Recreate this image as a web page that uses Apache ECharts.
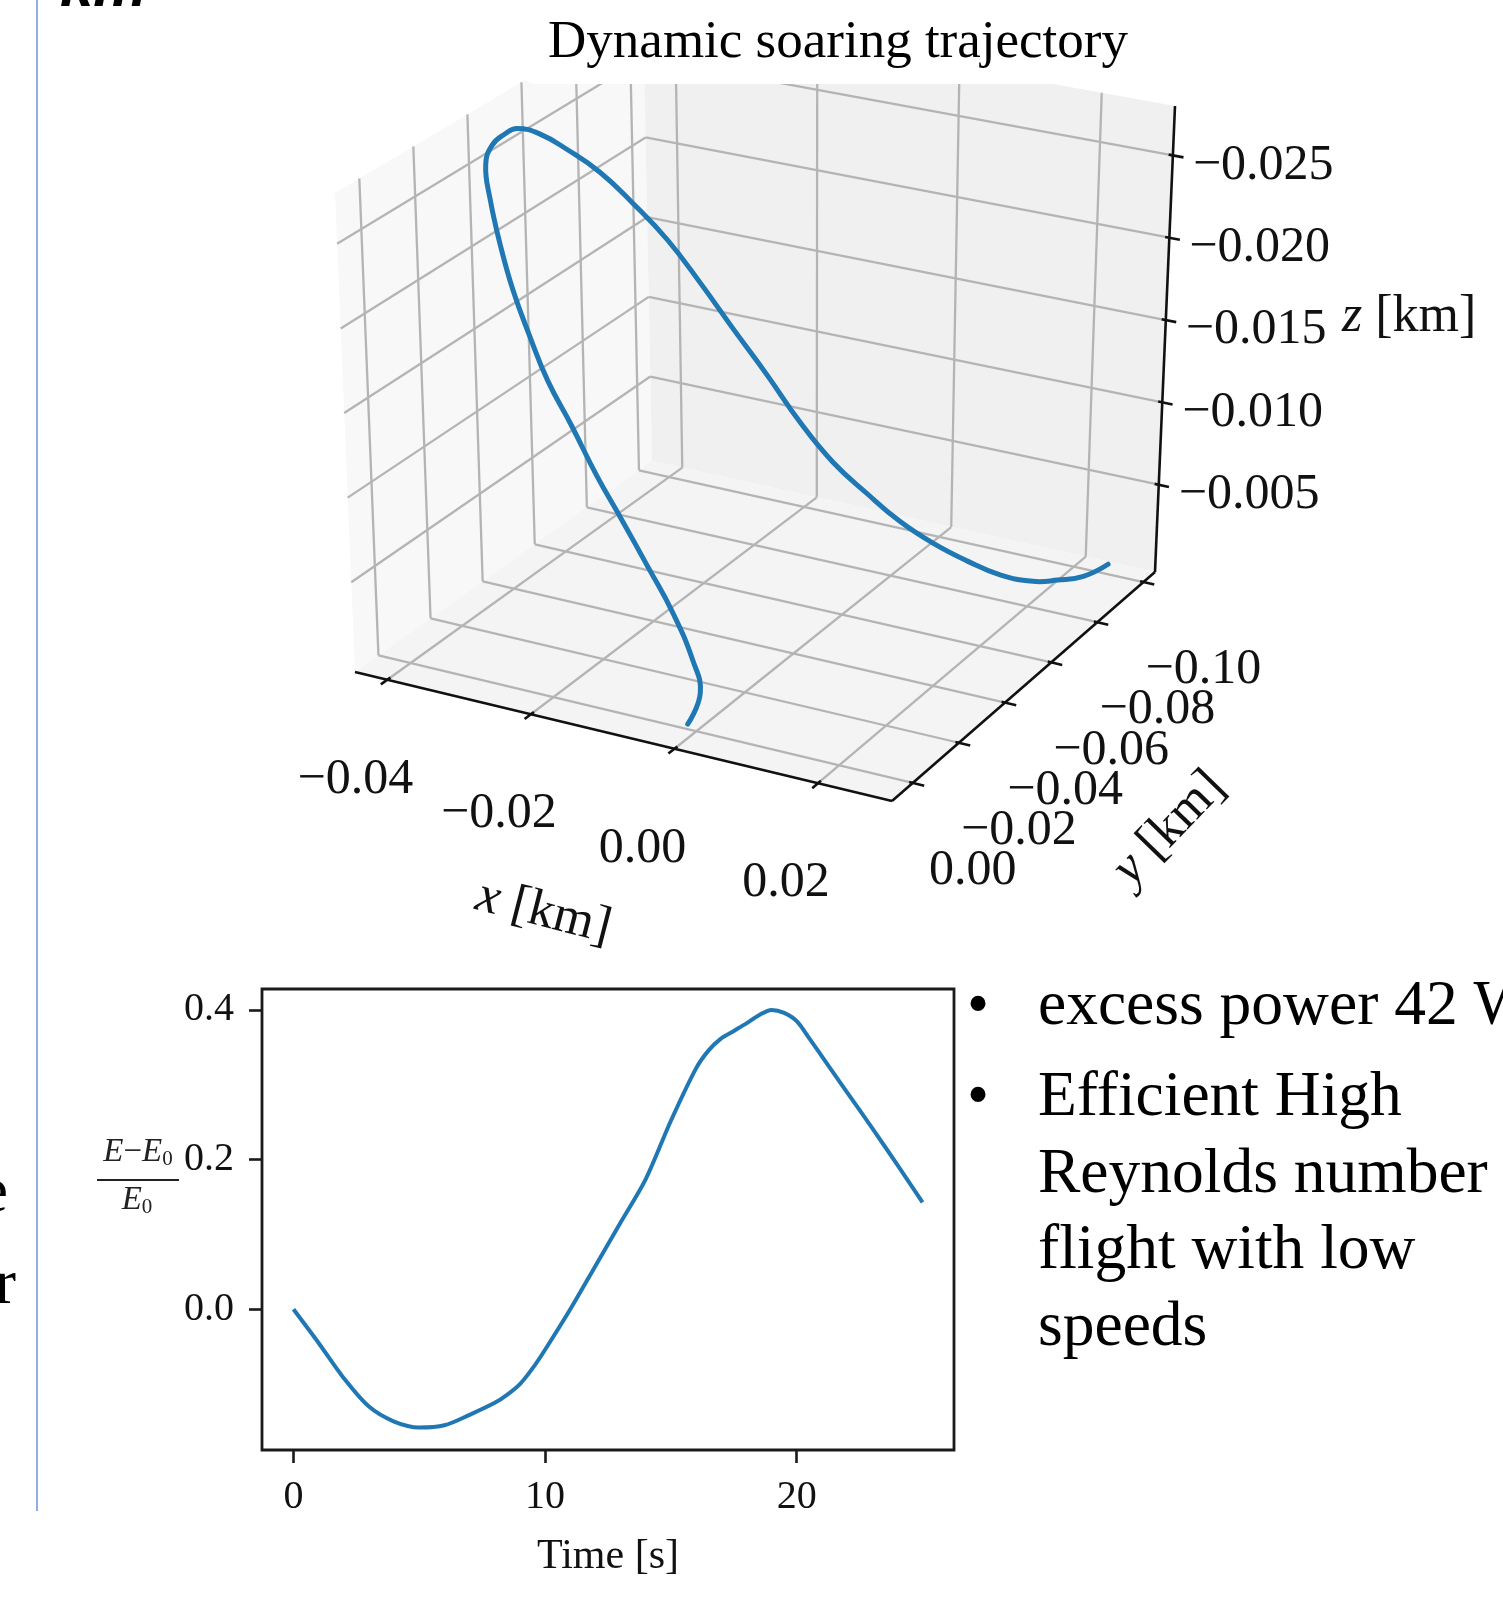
<!DOCTYPE html>
<html><head><meta charset="utf-8">
<script src="https://cdn.jsdelivr.net/npm/echarts@6/dist/echarts.min.js"></script>
<style>html,body{margin:0;padding:0;background:#fff;overflow:hidden}#c{width:1503px;height:1607px}</style>
</head><body><div id="c"></div>
<script>
// ---------- data: 3D trajectory (km) ----------
const trajX = [-0.0012,-0.0001,-0.0018,-0.0056,-0.0100,-0.0146,-0.0191,-0.0235,-0.0278,-0.0313,-0.0345,-0.0372,-0.0395,-0.0409,-0.0407,-0.0396,-0.0387,-0.0365,-0.0340,-0.0306,-0.0272,-0.0236,-0.0202,-0.0167,-0.0130,-0.0093,-0.0057,-0.0018,0.0020,0.0057,0.0099,0.0141,0.0179,0.0206,0.0231,0.0250];
const trajY = [0.000,-0.002,-0.004,-0.007,-0.010,-0.013,-0.016,-0.019,-0.022,-0.025,-0.028,-0.031,-0.034,-0.0365,-0.0385,-0.0405,-0.0425,-0.045,-0.048,-0.051,-0.054,-0.057,-0.060,-0.063,-0.066,-0.069,-0.072,-0.075,-0.078,-0.081,-0.0835,-0.0855,-0.0885,-0.0912,-0.095,-0.100];
const trajZ = [0.0000,-0.0017,-0.0032,-0.0053,-0.0072,-0.0092,-0.0111,-0.0133,-0.0153,-0.0174,-0.0195,-0.0217,-0.0239,-0.0256,-0.0266,-0.0272,-0.0274,-0.0270,-0.0260,-0.0246,-0.0227,-0.0205,-0.0179,-0.0151,-0.0123,-0.0094,-0.0070,-0.0051,-0.0034,-0.0021,-0.0011,-0.0004,0.0000,0.0000,0.0000,-0.0003];
const xTicks3d = [-0.04,-0.02,0.00,0.02];
const yTicks3d = [0.00,-0.02,-0.04,-0.06,-0.08,-0.10];
const zTicks3d = [-0.025,-0.020,-0.015,-0.010,-0.005];
const xLim3d = [-0.0445, 0.0303];   // left, right
const yLim3d = [0.009, -0.105];     // front, back
const zLim3d = [0.0003, -0.028];    // bottom, top
// ---------- data: energy ----------
const timeS = [0,1,2,3,4,5,6,7,8,8.5,9,9.5,10,11,12,13,14,15,16,16.5,17,17.5,18,18.5,19,19.5,20,20.5,21,22,23,24,25];
const energyRatio = [0.000,-0.045,-0.092,-0.130,-0.150,-0.158,-0.155,-0.141,-0.125,-0.114,-0.100,-0.079,-0.054,0.000,0.058,0.116,0.174,0.252,0.322,0.346,0.362,0.372,0.382,0.393,0.400,0.396,0.385,0.362,0.338,0.290,0.242,0.193,0.143];
const timeTicks = [0,10,20];
const energyTicks = [0.0,0.2,0.4];
const bullets = ['excess power 42 W', 'Efficient High', 'Reynolds number', 'flight with low', 'speeds'];

// ---------- projection (box corners on screen) ----------
const CORN = {c000:[355,672], c100:[892,801], c010:[652,461], c110:[1155,572],
              c001:[335,193], c101:[900,307], c011:[643,10],  c111:[1175,106]};
function lerp2(a,b,t){return [a[0]+(b[0]-a[0])*t, a[1]+(b[1]-a[1])*t];}
function tri(u,v,w){
  const c=CORN;
  const a0=lerp2(c.c000,c.c100,u), a1=lerp2(c.c010,c.c110,u);
  const b0=lerp2(c.c001,c.c101,u), b1=lerp2(c.c011,c.c111,u);
  return lerp2(lerp2(a0,a1,v), lerp2(b0,b1,v), w);
}
function proj(x,y,z){
  return tri((x-xLim3d[0])/(xLim3d[1]-xLim3d[0]), (y-yLim3d[0])/(yLim3d[1]-yLim3d[0]), (z-zLim3d[0])/(zLim3d[1]-zLim3d[0]));
}
function fmt(v,d){const s=Math.abs(v).toFixed(d);return (v<-1e-12?'\u2212':'')+s;}
const SERIF='"Liberation Serif","Times New Roman",serif';
function seg(p,q,stroke,w){return {type:'line',shape:{x1:p[0],y1:p[1],x2:q[0],y2:q[1]},style:{stroke:stroke,lineWidth:w,lineCap:'butt'}};}
function poly(pts,fill){return {type:'polygon',shape:{points:pts},style:{fill:fill,stroke:null}};}
function txt(x,y,text,size,align){
  return {type:'text',x:x,y:y,style:{text:text,fontSize:size,fontFamily:SERIF,fill:'#111',align:align||'center',verticalAlign:'middle'}};
}

function renderBox(){
  const X0=xLim3d[0],X1=xLim3d[1],Yf=yLim3d[0],Yb=yLim3d[1],Zb=zLim3d[0],Zt=zLim3d[1];
  const ch=[];
  ch.push(poly([proj(X0,Yf,Zb),proj(X0,Yb,Zb),proj(X0,Yb,Zt),proj(X0,Yf,Zt)],'#f8f8f8'));
  ch.push(poly([proj(X0,Yb,Zb),proj(X1,Yb,Zb),proj(X1,Yb,Zt),proj(X0,Yb,Zt)],'#f0f0f0'));
  ch.push(poly([proj(X0,Yf,Zb),proj(X1,Yf,Zb),proj(X1,Yb,Zb),proj(X0,Yb,Zb)],'#f4f4f4'));
  const G='#b4b4b4', GW=2.3;
  xTicks3d.forEach(x=>{ch.push(seg(proj(x,Yf,Zb),proj(x,Yb,Zb),G,GW));ch.push(seg(proj(x,Yb,Zb),proj(x,Yb,Zt),G,GW));});
  yTicks3d.forEach(y=>{ch.push(seg(proj(X0,y,Zb),proj(X1,y,Zb),G,GW));ch.push(seg(proj(X0,y,Zb),proj(X0,y,Zt),G,GW));});
  zTicks3d.forEach(z=>{ch.push(seg(proj(X0,Yf,z),proj(X0,Yb,z),G,GW));ch.push(seg(proj(X0,Yb,z),proj(X1,Yb,z),G,GW));});
  const K='#111', KW=2.6;
  ch.push(seg(proj(X0,Yf,Zb),proj(X1,Yf,Zb),K,KW));
  ch.push(seg(proj(X1,Yf,Zb),proj(X1,Yb,Zb),K,KW));
  ch.push(seg(proj(X1,Yb,Zb),proj(X1,Yb,Zt),K,KW));
  xTicks3d.forEach(x=>{
    ch.push(seg(proj(x,Yf+0.0025,Zb),proj(x,Yf-0.0012,Zb),K,KW));
    const p=proj(x,Yf,Zb); ch.push(txt(p[0]-32,p[1]+100,fmt(x,2),50));
  });
  yTicks3d.forEach(y=>{
    ch.push(seg(proj(X1+0.0016,y,Zb),proj(X1-0.0005,y,Zb),K,KW));
    const p=proj(X1,y,Zb); ch.push(txt(p[0]+60,p[1]+88,fmt(y,2),50));
  });
  zTicks3d.forEach(z=>{
    ch.push(seg(proj(X1+0.0015,Yb,z),proj(X1-0.0006,Yb,z),K,KW));
    const p=proj(X1,Yb,z); ch.push(txt(p[0]+20,p[1]+10,fmt(z,3),50,'left'));
  });
  const rich={i:{fontStyle:'italic',fontSize:52,fontFamily:SERIF,fill:'#111'},n:{fontSize:52,fontFamily:SERIF,fill:'#111'}};
  const mx=proj((X0+X1)/2,Yf,Zb), my=proj(X1,(Yf+Yb)/2,Zb), mz=proj(X1,Yb,(Zb+Zt)/2);
  ch.push({type:'text',x:mx[0]-80,y:mx[1]+176,rotation:-0.25,style:{text:'{i|x}{n| [km]}',rich:rich,align:'center',verticalAlign:'middle'}});
  ch.push({type:'text',x:my[0]+146,y:my[1]+142,rotation:0.80,style:{text:'{i|y}{n| [km]}',rich:rich,align:'center',verticalAlign:'middle'}});
  ch.push({type:'text',x:mz[0]+177,y:mz[1]-22,style:{text:'{i|z}{n| [km]}',rich:rich,align:'left',verticalAlign:'middle'}});
  return {type:'group',children:ch};
}
function renderTraj(params,api){
  if(params.dataIndex!==0) return null;
  const pts=trajX.map((x,i)=>proj(x,trajY[i],trajZ[i]));
  return {type:'polyline',shape:{points:pts,smooth:0.45},style:{stroke:'#1f77b4',lineWidth:5,fill:null,lineJoin:'round',lineCap:'round'}};
}

const chart=echarts.init(document.getElementById('c'),null,{renderer:'canvas',width:1503,height:1607});
const fracRich={i:{fontStyle:'italic',fontSize:33,fontFamily:SERIF,fill:'#222'},n:{fontSize:33,fontFamily:SERIF,fill:'#222'},s:{fontSize:21,fontFamily:SERIF,fill:'#222',verticalAlign:'bottom',padding:[15,0,0,0]}};
const graphic=[
  {type:'line',shape:{x1:37,y1:0,x2:37,y2:1511},style:{stroke:'#6f93dc',lineWidth:1.5},z:100},
  {type:'text',x:60,y:-11,style:{text:'km',fontSize:60,fontFamily:'"Liberation Sans",Arial,sans-serif',fontWeight:'bold',fontStyle:'italic',fill:'#000',align:'left',verticalAlign:'middle'},z:100},
  {type:'rect',shape:{x:522,y:-20,width:1100,height:104,r:[0,0,0,14]},style:{fill:'#fff'},z:100},
  {type:'text',x:838,y:43,style:{text:'Dynamic soaring trajectory',fontSize:53,fontFamily:SERIF,fill:'#000',align:'center',verticalAlign:'middle'},z:101},
  {type:'text',x:8,y:1194,style:{text:'e',fontSize:63,fontFamily:SERIF,fill:'#000',align:'right',verticalAlign:'middle'},z:100},
  {type:'text',x:16,y:1286,style:{text:'r',fontSize:63,fontFamily:SERIF,fill:'#000',align:'right',verticalAlign:'middle'},z:100},
  {type:'text',x:138,y:1152,style:{text:'{i|E}{n|\u2212}{i|E}{s|0}',rich:fracRich,align:'center',verticalAlign:'middle'},z:100},
  {type:'line',shape:{x1:97,y1:1180,x2:179,y2:1180},style:{stroke:'#222',lineWidth:1.8},z:100},
  {type:'text',x:137,y:1200,style:{text:'{i|E}{s|0}',rich:fracRich,align:'center',verticalAlign:'middle'},z:100}
];
const bulletY=[1007,1098,1175,1251,1328];
bullets.forEach((b,i)=>{
  graphic.push({type:'text',x:1038,y:bulletY[i],style:{text:b,fontSize:63.5,fontFamily:SERIF,fill:'#000',align:'left',verticalAlign:'middle'},z:100});
});
[0,1].forEach(i=>graphic.push({type:'text',x:978,y:bulletY[i],style:{text:'\u2022',fontSize:63,fontFamily:SERIF,fill:'#000',align:'center',verticalAlign:'middle'},z:100}));

chart.setOption({
  animation:false,
  backgroundColor:'#fff',
  grid:{left:262,top:989,width:692,height:461,show:true,borderColor:'#1a1a1a',borderWidth:2.8,backgroundColor:'transparent'},
  xAxis:{type:'value',min:-1.25,max:26.25,
    axisLine:{show:false,onZero:false},splitLine:{show:false},
    axisTick:{show:true,inside:false,customValues:timeTicks,length:13,lineStyle:{color:'#1a1a1a',width:2.6}},
    axisLabel:{customValues:timeTicks,fontSize:40,fontFamily:SERIF,color:'#111',margin:27},
    name:'Time [s]',nameLocation:'middle',nameGap:86,nameTextStyle:{fontSize:42,fontFamily:SERIF,color:'#111'}},
  yAxis:{type:'value',min:-0.188,max:0.428,
    axisLine:{show:false,onZero:false},splitLine:{show:false},
    axisTick:{show:true,inside:false,customValues:energyTicks,length:13,lineStyle:{color:'#1a1a1a',width:2.6}},
    axisLabel:{customValues:energyTicks,fontSize:40,fontFamily:SERIF,color:'#111',margin:28,formatter:v=>v.toFixed(1)}},
  series:[
    {type:'custom',coordinateSystem:'none',renderItem:renderBox,data:[[0]],silent:true,z:1},
    {type:'custom',coordinateSystem:'none',renderItem:renderTraj,data:trajX.map((x,i)=>[x,trajY[i],trajZ[i]]),silent:true,z:3},
    {type:'line',data:timeS.map((t,i)=>[t,energyRatio[i]]),showSymbol:false,smooth:0.3,lineStyle:{color:'#1f77b4',width:4},silent:true,z:3}
  ],
  graphic:graphic
});
</script></body></html>
